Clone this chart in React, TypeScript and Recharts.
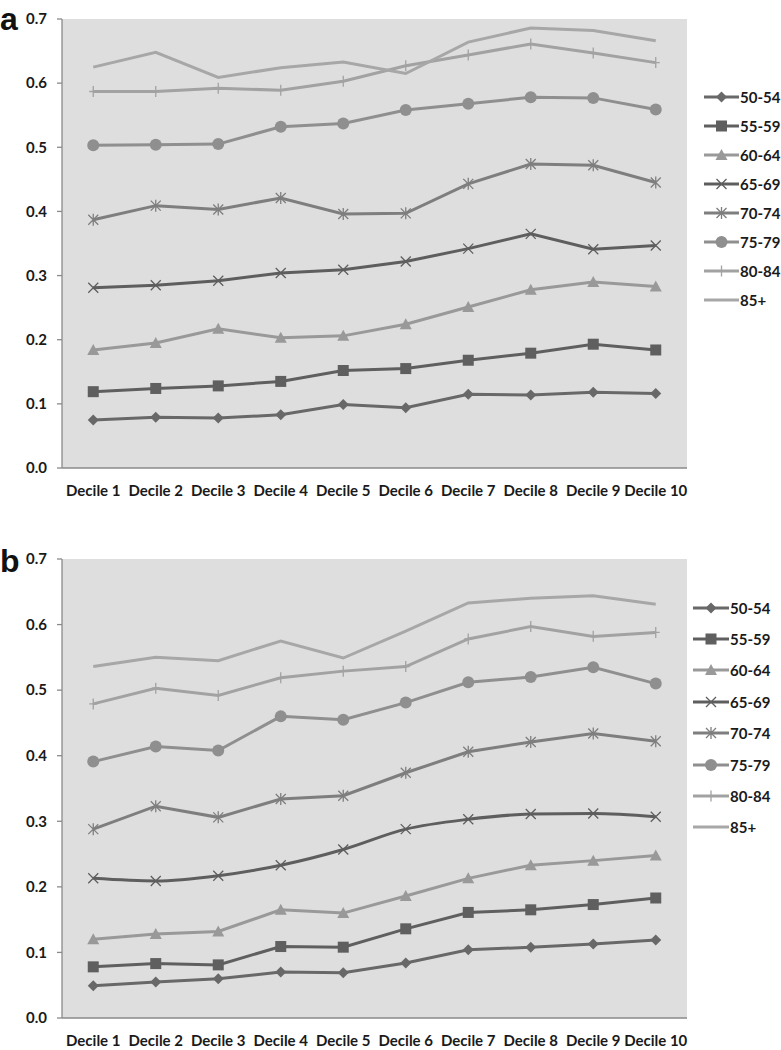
import React from 'react';
import { LineChart, Line, XAxis, YAxis, CartesianGrid } from 'recharts';

const deciles = ['Decile 1', 'Decile 2', 'Decile 3', 'Decile 4', 'Decile 5', 'Decile 6', 'Decile 7', 'Decile 8', 'Decile 9', 'Decile 10'];
const ageGroups = ['50-54', '55-59', '60-64', '65-69', '70-74', '75-79', '80-84', '85+'];
const yTicks = [0, 0.1, 0.2, 0.3, 0.4, 0.5, 0.6, 0.7];
const boundaryTicks = [0, 1, 2, 3, 4, 5, 6, 7, 8, 9, 10];

// Panel a
const a50_54 = [0.075, 0.079, 0.078, 0.083, 0.099, 0.094, 0.115, 0.114, 0.118, 0.116];
const a55_59 = [0.119, 0.124, 0.128, 0.135, 0.152, 0.155, 0.168, 0.179, 0.193, 0.184];
const a60_64 = [0.184, 0.195, 0.217, 0.203, 0.206, 0.224, 0.251, 0.278, 0.290, 0.283];
const a65_69 = [0.281, 0.285, 0.292, 0.304, 0.309, 0.322, 0.342, 0.365, 0.341, 0.347];
const a70_74 = [0.387, 0.409, 0.403, 0.421, 0.396, 0.397, 0.443, 0.474, 0.472, 0.445];
const a75_79 = [0.503, 0.504, 0.505, 0.532, 0.537, 0.558, 0.568, 0.578, 0.577, 0.559];
const a80_84 = [0.587, 0.587, 0.592, 0.589, 0.603, 0.627, 0.644, 0.661, 0.647, 0.632];
const a85 = [0.625, 0.648, 0.609, 0.624, 0.633, 0.615, 0.664, 0.686, 0.682, 0.666];

// Panel b
const b50_54 = [0.049, 0.055, 0.060, 0.070, 0.069, 0.084, 0.104, 0.108, 0.113, 0.119];
const b55_59 = [0.078, 0.083, 0.081, 0.109, 0.108, 0.136, 0.161, 0.165, 0.173, 0.183];
const b60_64 = [0.120, 0.128, 0.132, 0.165, 0.160, 0.186, 0.213, 0.233, 0.240, 0.248];
const b65_69 = [0.213, 0.209, 0.217, 0.233, 0.257, 0.288, 0.303, 0.311, 0.312, 0.307];
const b70_74 = [0.288, 0.323, 0.306, 0.334, 0.339, 0.374, 0.406, 0.421, 0.434, 0.422];
const b75_79 = [0.391, 0.414, 0.408, 0.460, 0.455, 0.481, 0.512, 0.520, 0.535, 0.510];
const b80_84 = [0.479, 0.503, 0.492, 0.519, 0.529, 0.536, 0.578, 0.597, 0.582, 0.588];
const b85 = [0.536, 0.550, 0.545, 0.575, 0.549, 0.590, 0.633, 0.640, 0.644, 0.631];

const seriesColors = ['#686868', '#5f5f5f', '#999999', '#5e5e5e', '#7e7e7e', '#8f8f8f', '#a2a2a2', '#a7a7a7'];
const seriesMarkers = ['diamond', 'square', 'triangle', 'x', 'asterisk', 'circle', 'plus', 'none'];
const curvesA = ['linear', 'linear', 'linear', 'linear', 'linear', 'linear', 'linear', 'linear'];
const curvesB = ['linear', 'linear', 'linear', 'monotone', 'linear', 'linear', 'linear', 'linear'];

const panelA = [a50_54, a55_59, a60_64, a65_69, a70_74, a75_79, a80_84, a85];
const panelB = [b50_54, b55_59, b60_64, b65_69, b70_74, b75_79, b80_84, b85];

const buildRows = (series: number[][]) =>
  deciles.map((d, i) => {
    const row: any = { decile: d };
    ageGroups.forEach((g, k) => {
      row[g] = series[k][i];
    });
    return row;
  });

const FONT = 'Lato, "Liberation Sans", Arial, sans-serif';
const TEXT = '#1a1a1a';
const AXIS = '#8a8a8a';

function Marker({ kind, cx, cy, color }: { kind: string; cx: number; cy: number; color: string }) {
  if (cx == null || cy == null) return null;
  switch (kind) {
    case 'diamond':
      return <path d={`M${cx},${cy - 5.5}L${cx + 5.5},${cy}L${cx},${cy + 5.5}L${cx - 5.5},${cy}Z`} fill={color} />;
    case 'square':
      return <rect x={cx - 5.5} y={cy - 5.5} width={11} height={11} fill={color} />;
    case 'triangle':
      return <path d={`M${cx},${cy - 6}L${cx + 6},${cy + 5}L${cx - 6},${cy + 5}Z`} fill={color} />;
    case 'x':
      return (
        <path d={`M${cx - 5},${cy - 5}L${cx + 5},${cy + 5}M${cx + 5},${cy - 5}L${cx - 5},${cy + 5}`} stroke={color} strokeWidth={1.3} fill="none" />
      );
    case 'asterisk':
      return (
        <path
          d={`M${cx - 5},${cy - 5}L${cx + 5},${cy + 5}M${cx + 5},${cy - 5}L${cx - 5},${cy + 5}M${cx},${cy - 6}L${cx},${cy + 6}`}
          stroke={color}
          strokeWidth={1.3}
          fill="none"
        />
      );
    case 'circle':
      return <circle cx={cx} cy={cy} r={6} fill={color} />;
    case 'plus':
      return <path d={`M${cx},${cy - 5.5}L${cx},${cy + 5.5}M${cx - 4},${cy}L${cx + 4},${cy}`} stroke={color} strokeWidth={1.3} fill="none" />;
    default:
      return null;
  }
}

function LegendBox({ left, top, step, markerWidth }: { left: number; top: number; step: number; markerWidth: number }) {
  return (
    <div style={{ position: 'absolute', left, top, whiteSpace: 'nowrap' }}>
      {ageGroups.map((g, k) => (
        <div key={g} style={{ display: 'flex', alignItems: 'center', height: step }}>
          <svg width={markerWidth} height={14} style={{ display: 'block', flexShrink: 0 }}>
            <line x1={0} x2={markerWidth} y1={7} y2={7} stroke={seriesColors[k]} strokeWidth={3} />
            <Marker kind={seriesMarkers[k]} cx={markerWidth / 2} cy={7} color={seriesColors[k]} />
          </svg>
          <span style={{ fontFamily: FONT, fontWeight: 700, fontSize: 15, color: TEXT, marginLeft: 1 }}>{g}</span>
        </div>
      ))}
    </div>
  );
}

function Panel({ series, curves, height }: { series: number[][]; curves: string[]; height: number }) {
  const rows = buildRows(series);
  return (
    <LineChart width={781} height={height} data={rows} margin={{ top: 19, right: 94, bottom: 0, left: 0 }}>
      <CartesianGrid xAxisId="cat" yAxisId="y" horizontal={false} vertical={false} fill="#dedede" stroke="none" />
      <XAxis
        xAxisId="bounds"
        type="number"
        domain={[0, 10]}
        ticks={boundaryTicks}
        allowDataOverflow
        height={0}
        axisLine={false}
        tick={false}
        tickSize={6}
        tickLine={{ stroke: AXIS, strokeWidth: 1.3 }}
      />
      <XAxis
        xAxisId="cat"
        dataKey="decile"
        scale="band"
        height={32}
        tickLine={false}
        tickSize={6}
        tickMargin={11}
        interval={0}
        axisLine={{ stroke: AXIS, strokeWidth: 1.3 }}
        tick={{ fill: TEXT, fontSize: 15, fontWeight: 700, fontFamily: FONT }}
      />
      <YAxis
        yAxisId="y"
        width={62}
        domain={[0, 0.7]}
        ticks={yTicks}
        interval={0}
        tickFormatter={(v: number) => v.toFixed(1)}
        tickSize={5}
        tickMargin={10}
        axisLine={{ stroke: AXIS, strokeWidth: 1.3 }}
        tickLine={{ stroke: AXIS, strokeWidth: 1.3 }}
        tick={{ fill: TEXT, fontSize: 15, fontWeight: 700, fontFamily: FONT }}
      />
      {ageGroups.map((g, k) => (
        <Line
          key={g}
          xAxisId="cat"
          yAxisId="y"
          dataKey={g}
          type={curves[k] as any}
          stroke={seriesColors[k]}
          strokeWidth={3}
          isAnimationActive={false}
          activeDot={false}
          dot={(p: any) => <Marker key={`${g}-${p.index}`} kind={seriesMarkers[k]} cx={p.cx} cy={p.cy} color={seriesColors[k]} />}
        />
      ))}
    </LineChart>
  );
}

const letterStyle: React.CSSProperties = {
  position: 'absolute',
  left: 0,
  fontFamily: '"Liberation Sans", Arial, sans-serif',
  fontWeight: 700,
  fontSize: 32,
  lineHeight: '32px',
  color: '#111',
};

export default function App() {
  return (
    <div style={{ position: 'absolute', left: 0, top: 0, width: 781, height: 1050, background: '#fff' }}>
      <div style={{ position: 'absolute', left: 0, top: 0 }}>
        <Panel series={panelA} curves={curvesA} height={500} />
      </div>
      <div style={{ position: 'absolute', left: 0, top: 540 }}>
        <Panel series={panelB} curves={curvesB} height={510} />
      </div>
      <div style={{ ...letterStyle, top: 3 }}>a</div>
      <div style={{ ...letterStyle, top: 545 }}>b</div>
      <LegendBox left={704} top={83} step={28.9} markerWidth={35} />
      <LegendBox left={693} top={592} step={31.4} markerWidth={36} />
    </div>
  );
}
